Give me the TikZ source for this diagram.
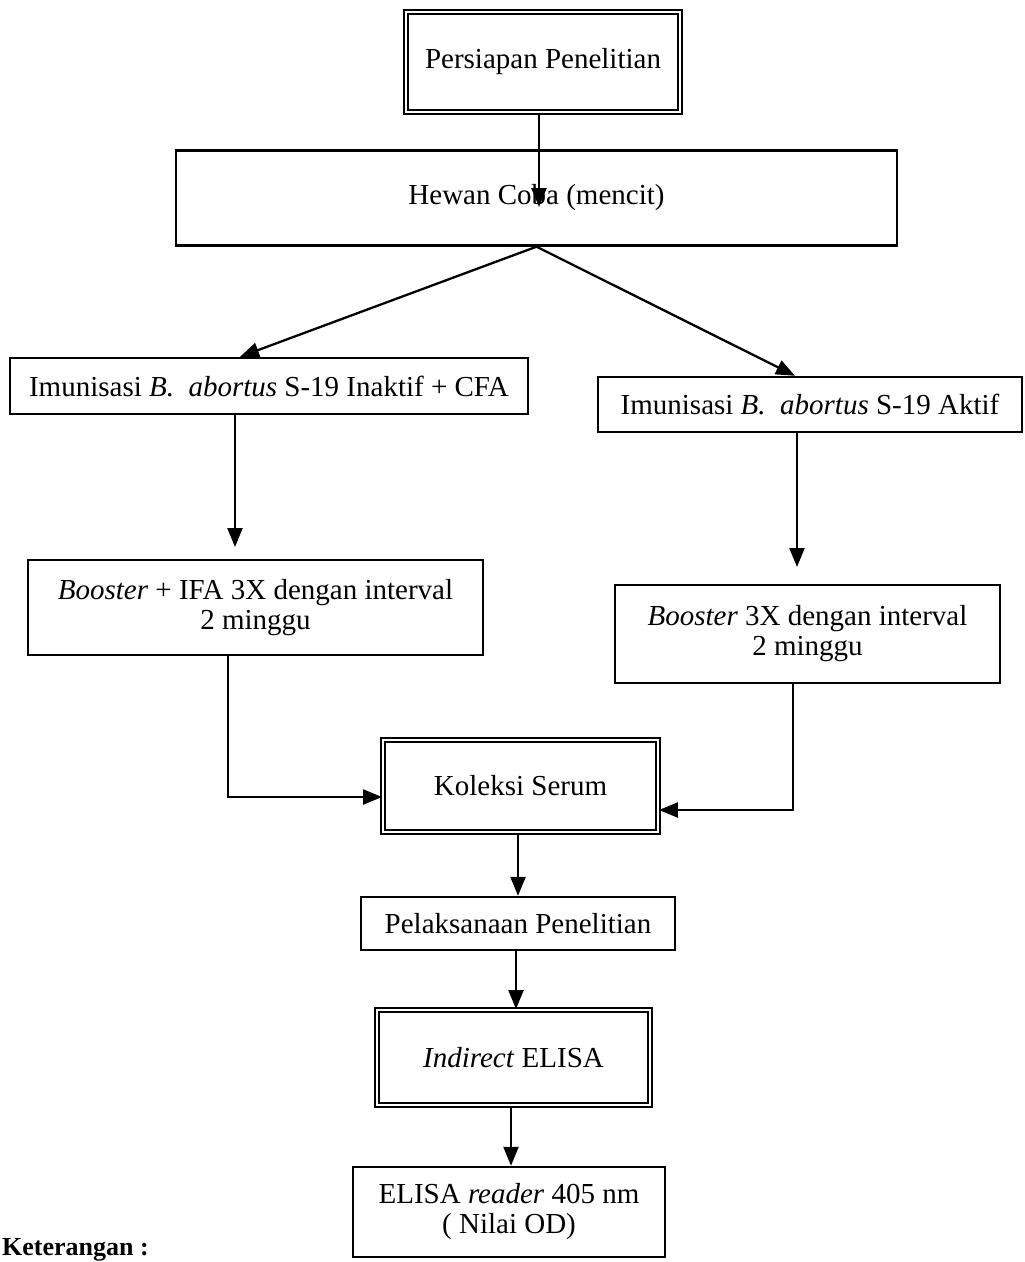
\documentclass[tikz,border=0pt]{standalone}
\usepackage{fontspec}
\setmainfont{Liberation Serif}
\usetikzlibrary{arrows.meta,calc}
\begin{document}
\begin{tikzpicture}[x=1pt,y=-1pt,
  box/.style={draw,line width=2.4pt,inner sep=0pt,align=center,font=\fontsize{29}{30}\selectfont},
  dbox/.style={box,double,double distance=2.8pt,line width=1.9pt},
  arr/.style={line width=2.3pt,-{Triangle[length=19pt,width=15pt]}}]
\useasboundingbox[fill=white] (0,0) rectangle (1025,1262);
\node[dbox,minimum width=274pt,minimum height=100pt] (p) at (543,62) {Persiapan Penelitian};
\node[box,minimum width=721pt,minimum height=95pt] (h) at (536.5,198) {Hewan Coba (mencit)};
\node[box,minimum width=518pt,minimum height=56pt] (l1) at (269,386) {Imunisasi \textit{B.}\ \ \textit{abortus} S-19 Inaktif + CFA};
\node[box,minimum width=424pt,minimum height=55pt] (r1) at (810,404.5) {Imunisasi \textit{B.}\ \ \textit{abortus} S-19 Aktif};
\node[box,minimum width=455pt,minimum height=95pt] (l2) at (255.5,607.5) {\textit{Booster} + IFA 3X dengan interval\\2 minggu};
\node[box,minimum width=385pt,minimum height=98pt] (r2) at (807.5,634) {\textit{Booster} 3X dengan interval\\2 minggu};
\node[dbox,minimum width=275pt,minimum height=92pt] (k) at (520.5,786) {Koleksi Serum};
\node[box,minimum width=314pt,minimum height=53pt] (pl) at (518,923.5) {Pelaksanaan Penelitian};
\node[dbox,minimum width=273pt,minimum height=95pt] (ie) at (513.5,1057.5) {\textit{Indirect} ELISA};
\node[box,minimum width=312pt,minimum height=90pt] (er) at (509,1212) {ELISA \textit{reader} 405 nm\\( Nilai OD)};
\node[anchor=base west,inner sep=0pt,font=\fontsize{26}{30}\selectfont\bfseries] (ket) at (2,1255) {Keterangan :};
\coordinate (ph) at (539,207);
\coordinate (a1) at (235,547);
\coordinate (a2) at (797,567);
\draw[arr] (ph |- p.south) -- (ph);
\draw[arr] (h.south) -- (240,0 |- l1.north);
\draw[arr] (h.south) -- (795,0 |- r1.north);
\draw[arr] (a1 |- l1.south) -- (a1);
\draw[arr] (a2 |- r1.south) -- (a2);
\draw[arr] (228,0 |- l2.south) |- ($(k.west)+(0,11)$);
\draw[arr] (793,0 |- r2.south) |- ($(k.east)+(0,24)$);
\draw[arr] (518,0 |- k.south) -- (518,0 |- pl.north);
\draw[arr] (516,0 |- pl.south) -- (516,0 |- ie.north);
\draw[arr] (511,0 |- ie.south) -- (511,0 |- er.north);
\end{tikzpicture}
\end{document}
